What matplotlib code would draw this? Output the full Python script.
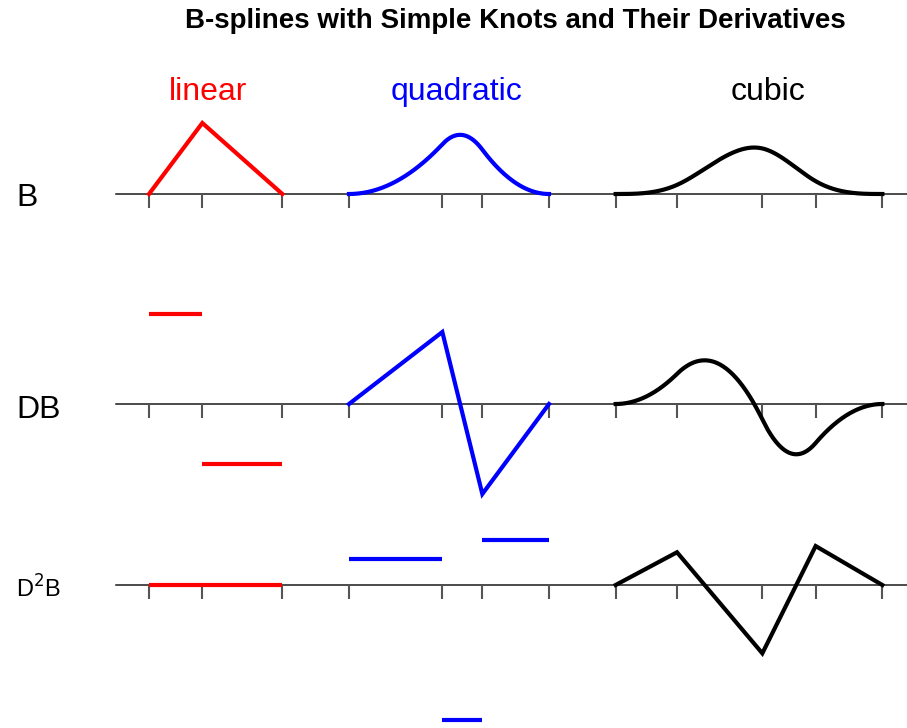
import numpy as np
import matplotlib
matplotlib.use("Agg")
import matplotlib.pyplot as plt

plt.rcParams['font.family'] = ['Liberation Sans', 'DejaVu Sans']

# ---- data: knot positions (common x scale) ----
linear_knots = [0.0, 1.0, 2.5]
quadratic_knots = [3.75, 5.5, 6.25, 7.5]
cubic_knots = [8.75, 9.9, 11.5, 12.5, 13.75]
spline_names = ["linear", "quadratic", "cubic"]
spline_colors = ["#ff0000", "#0000ff", "#000000"]
row_labels = ["B", "DB", "D$^2$B"]
title = "B-splines with Simple Knots and Their Derivatives"

W, H = 907, 728
fig = plt.figure(figsize=(W / 100, H / 100), dpi=100)


def bpiece(t, deg, i, x, piece):
    if deg == 0:
        return np.ones_like(x) if i == piece else np.zeros_like(x)
    out = np.zeros_like(x)
    d1 = t[i + deg] - t[i]
    d2 = t[i + deg + 1] - t[i + 1]
    if d1 > 0:
        out = out + (x - t[i]) / d1 * bpiece(t, deg - 1, i, x, piece)
    if d2 > 0:
        out = out + (t[i + deg + 1] - x) / d2 * bpiece(t, deg - 1, i + 1, x, piece)
    return out


def dbpiece(t, deg, i, x, piece, d):
    if d == 0:
        return bpiece(t, deg, i, x, piece)
    if d > deg:
        return np.zeros_like(x)
    d1 = t[i + deg] - t[i]
    d2 = t[i + deg + 1] - t[i + 1]
    out = np.zeros_like(x)
    if d1 > 0:
        out = out + deg * dbpiece(t, deg - 1, i, x, piece, d - 1) / d1
    if d2 > 0:
        out = out - deg * dbpiece(t, deg - 1, i + 1, x, piece, d - 1) / d2
    return out


# axes geometry in pixels
x_left_px = 116
x0_px, unit_px = 149.0, 53.333
xlim = ((x_left_px - x0_px) / unit_px, (W - x0_px) / unit_px)
rows = [  # baseline px, px per unit, band top, band bottom
    (194, 71.0, 105, 262),
    (404, 90.0, 270, 510),
    (585, 56.25, 515, 728),
]
all_knots = linear_knots + quadratic_knots + cubic_knots
knot_sets = [linear_knots, quadratic_knots, cubic_knots]

for r, (base, scale, top, bot) in enumerate(rows):
    ax = fig.add_axes([x_left_px / W, 1 - bot / H, 1 - x_left_px / W, (bot - top) / H])
    ax.set_xlim(*xlim)
    ax.set_ylim(-(bot - base) / scale, (base - top) / scale)
    for s in ["top", "right", "left"]:
        ax.spines[s].set_visible(False)
    ax.spines["bottom"].set_position(("data", 0))
    ax.spines["bottom"].set_color("#1a1a1a")
    ax.spines["bottom"].set_linewidth(1.1)
    ax.spines["bottom"].set_zorder(1)
    ax.set_yticks([])
    ax.set_xticks(all_knots)
    ax.tick_params(axis="x", direction="out", length=10, width=1.5,
                   color="#555555", labelbottom=False)
    ax.patch.set_alpha(0)
    for k, (t, col) in enumerate(zip(knot_sets, spline_colors)):
        deg = len(t) - 2
        t = np.asarray(t, dtype=float)
        if r > deg:
            ax.plot([t[0], t[-1]], [0, 0], color=col, lw=3, zorder=3,
                    solid_capstyle="butt")
            continue
        if r == deg:
            for p in range(len(t) - 1):
                xs = np.array([t[p], t[p + 1]])
                ys = dbpiece(t, deg, 0, xs, p, r)
                ax.plot(xs, ys, color=col, lw=3, zorder=3, solid_capstyle="butt")
        else:
            X, Y = [], []
            for p in range(len(t) - 1):
                xs = np.linspace(t[p], t[p + 1], 80)
                ys = dbpiece(t, deg, 0, xs, p, r)
                X.append(xs)
                Y.append(ys)
            ax.plot(np.concatenate(X), np.concatenate(Y), color=col, lw=3,
                    zorder=3, solid_joinstyle="miter")


def ftext(xpx, ypx, s, **kw):
    fig.text(xpx / W, 1 - ypx / H, s, **kw)


ftext(515, 28, title, ha="center", va="baseline", fontsize=20,
      fontweight="bold")
for name, col, cx in zip(spline_names, spline_colors, [208, 456, 768]):
    ftext(cx, 100, name, ha="center", va="baseline", fontsize=23, color=col)
ftext(16, 206, row_labels[0], ha="left", va="baseline", fontsize=23)
ftext(16, 418, row_labels[1], ha="left", va="baseline", fontsize=23)
ftext(16, 598, row_labels[2], ha="left", va="baseline", fontsize=17)

fig.savefig("out.png", dpi=100)
